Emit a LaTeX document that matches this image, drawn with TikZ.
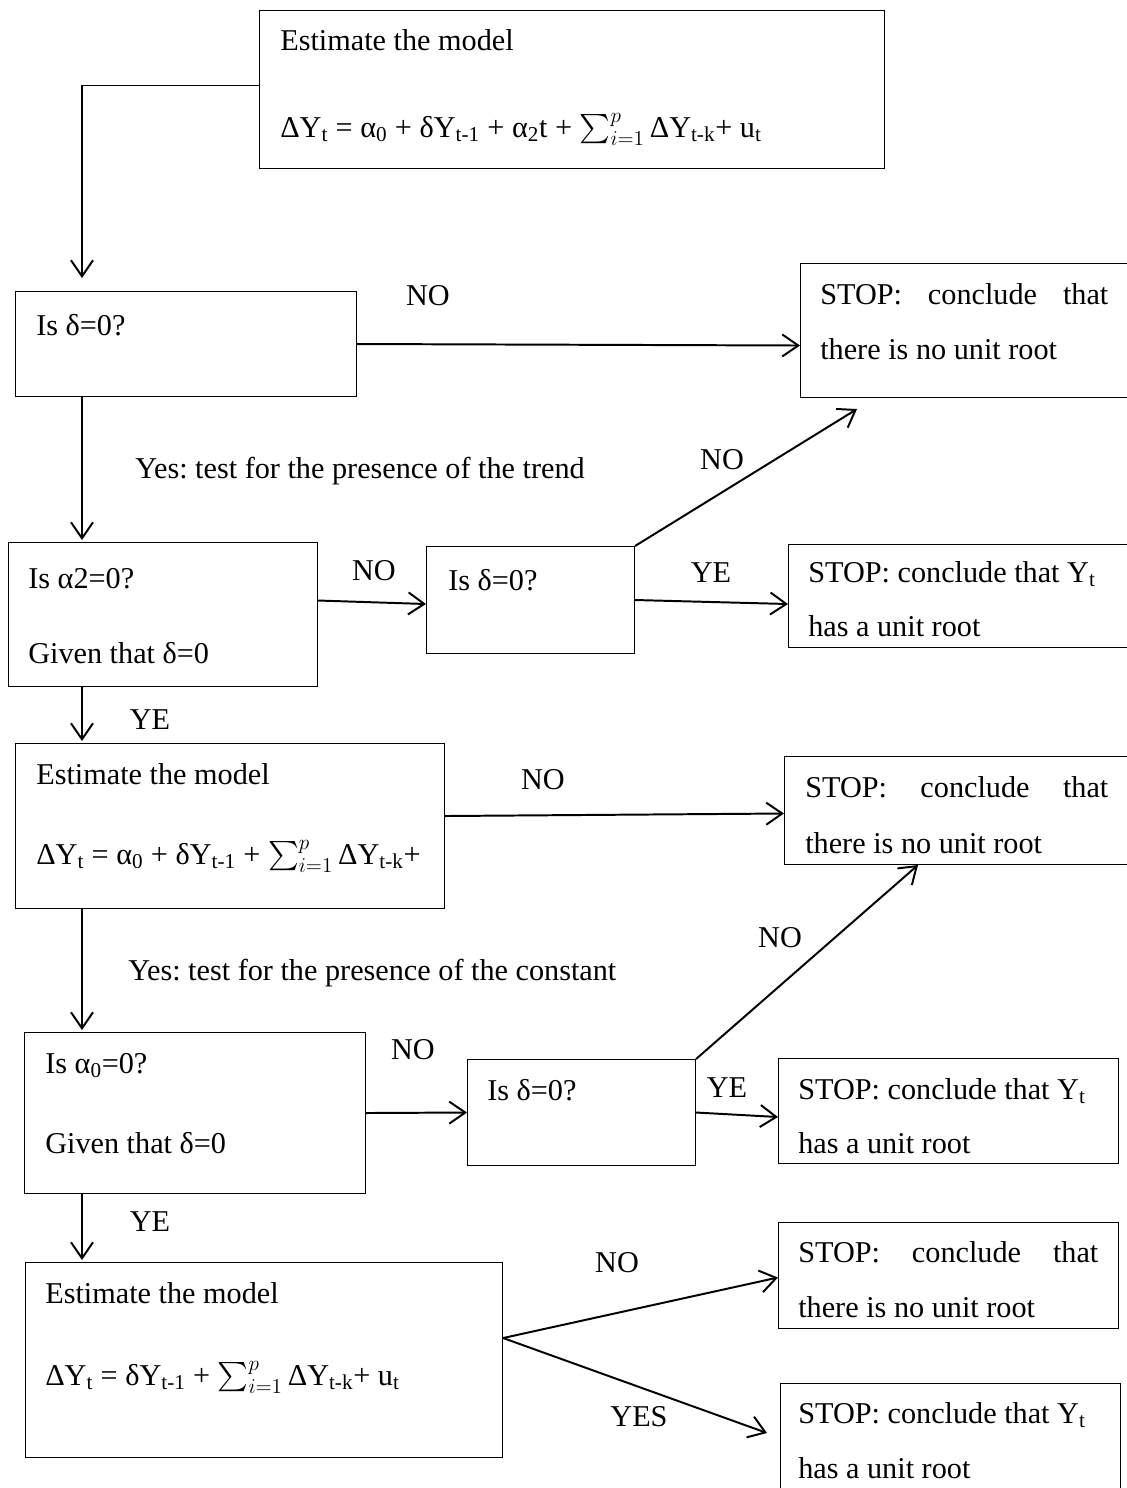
\RequirePackage{fix-cm}
\documentclass[tikz,border=0pt]{standalone}
\usepackage{amsmath}
\usepackage{fontspec}
\setmainfont{Liberation Serif}
\usetikzlibrary{arrows.meta,calc}
\newcommand{\sbs}[1]{\textsubscript{#1}}
\newcommand{\sumip}{$\sum_{i=1}^{p}\,$}
\frenchspacing
\begin{document}
\begin{tikzpicture}[x=0.025cm,y=-0.025cm,font=\fontsize{21.5}{26}\selectfont,
  box/.style={draw,line width=0.7pt,anchor=north west,inner sep=0pt},
  txt/.style={anchor=base west,inner sep=0pt},
  lbl/.style={inner sep=0pt},
  arr/.style={line width=1.4pt,-{Straight Barb[length=4mm,width=5.5mm,line width=1.4pt]}}]
\useasboundingbox (0,0) rectangle (1126,1488);
\node[box,minimum width=15.625cm,minimum height=3.95cm] (est1) at (259,10) {};
\node[box,minimum width=8.525cm,minimum height=2.625cm] (dz1) at (15,291) {};
\node[box,minimum width=8.5cm,minimum height=3.35cm] (stopA) at (800,263) {};
\node[box,minimum width=7.725cm,minimum height=3.6cm] (al2) at (8,542) {};
\node[box,minimum width=5.2cm,minimum height=2.675cm] (dz2) at (426,546) {};
\node[box,minimum width=8.55cm,minimum height=2.575cm] (stopB) at (788,544) {};
\node[box,minimum width=10.725cm,minimum height=4.125cm] (est2) at (15,743) {};
\node[box,minimum width=8.65cm,minimum height=2.7cm] (stopC) at (784,756) {};
\node[box,minimum width=8.525cm,minimum height=4.025cm] (al0) at (24,1032) {};
\node[box,minimum width=5.7cm,minimum height=2.65cm] (dz3) at (467,1059) {};
\node[box,minimum width=8.5cm,minimum height=2.625cm] (stopD) at (778,1058) {};
\node[box,minimum width=11.925cm,minimum height=4.875cm] (est3) at (25,1262) {};
\node[box,minimum width=8.5cm,minimum height=2.65cm] (stopE) at (778,1222) {};
\node[box,minimum width=8.5cm,minimum height=3cm] (stopF) at (780,1383) {};

\node[txt] (est1a) at (280,50) {Estimate the model};
\node[txt] (est1b) at (280,137) {ΔY\sbs{t} = α\sbs{0} + δY\sbs{t-1} + α\sbs{2}t + \sumip ΔY\sbs{t-k}+ u\sbs{t}};
\node[txt] (dz1a) at (36,335) {Is δ=0?};
\node[txt] (stopAa) at (820,304) {\makebox[7.2cm][s]{STOP: conclude that}};
\node[txt] (stopAb) at (820,359) {there is no unit root};
\node[txt] (al2a) at (28,588) {Is α2=0?};
\node[txt] (al2b) at (28,663) {Given that δ=0};
\node[txt] (dz2a) at (448,590) {Is δ=0?};
\node[txt] (stopBa) at (808,582) {STOP: conclude that Y\sbs{t}};
\node[txt] (stopBb) at (808,636) {has a unit root};
\node[txt] (est2a) at (36,784) {Estimate the model};
\node[txt] (est2b) at (36,864) {ΔY\sbs{t} = α\sbs{0} + δY\sbs{t-1} + \sumip ΔY\sbs{t-k}+};
\node[txt] (stopCa) at (805,797) {\makebox[7.575cm][s]{STOP: conclude that}};
\node[txt] (stopCb) at (805,853) {there is no unit root};
\node[txt] (al0a) at (45,1073) {Is α\sbs{0}=0?};
\node[txt] (al0b) at (45,1153) {Given that δ=0};
\node[txt] (dz3a) at (487,1100) {Is δ=0?};
\node[txt] (stopDa) at (798,1099) {STOP: conclude that Y\sbs{t}};
\node[txt] (stopDb) at (798,1153) {has a unit root};
\node[txt] (est3a) at (45,1303) {Estimate the model};
\node[txt] (est3b) at (45,1385) {ΔY\sbs{t} = δY\sbs{t-1} + \sumip ΔY\sbs{t-k}+ u\sbs{t}};
\node[txt] (stopEa) at (798,1262) {\makebox[7.5cm][s]{STOP: conclude that}};
\node[txt] (stopEb) at (798,1317) {there is no unit root};
\node[txt] (stopFa) at (798,1423) {STOP: conclude that Y\sbs{t}};
\node[txt] (stopFb) at (798,1478) {has a unit root};

\node[lbl] (no1) at (428,296) {NO};
\node[txt] (yes1) at (135,478) {Yes: test for the presence of the trend};
\node[lbl] (no2) at (374,571) {NO};
\node[lbl] (no3) at (722,460) {NO};
\node[lbl] (ye1) at (711,573) {YE};
\node[lbl] (ye2) at (150,720) {YE};
\node[lbl] (no4) at (543,780) {NO};
\node[txt] (yes2) at (128,980) {Yes: test for the presence of the constant};
\node[lbl] (no5) at (413,1050) {NO};
\node[lbl] (no6) at (780,938) {NO};
\node[lbl] (ye3) at (727,1088) {YE};
\node[lbl] (ye4) at (150,1222) {YE};
\node[lbl] (no7) at (617,1263) {NO};
\node[lbl] (yes3) at (639,1417) {YES};

\coordinate (lane) at (82,85);
\coordinate (fork) at ($(est3.east)+(0,-22)$);
\draw[line width=0.7pt] ($(est1.north west)+(0,75)$) -- (lane);
\draw[arr] (lane) -- ($(dz1.north -| lane)+(0,-13)$);
\draw[arr] (dz1.east) -- ($(stopA.west)+(0,15)$);
\draw[arr] (dz1.south -| lane) -- ($(al2.north -| lane)+(0,-2)$);
\draw[arr] ($(al2.east)+(0,-14)$) -- ($(dz2.west)+(0,4)$);
\draw[arr] (dz2.north east) -- ($(stopA.south west)+(57,11)$);
\draw[arr] (dz2.east) -- ($(stopB.west)+(0,8)$);
\draw[arr] (al2.south -| lane) -- ($(est2.north -| lane)+(0,-2)$);
\draw[arr] ($(est2.east)+(0,-10)$) -- ($(stopC.west)+(0,3)$);
\draw[arr] (est2.south -| lane) -- ($(al0.north -| lane)+(0,-2)$);
\draw[arr] (al0.east) -- (dz3.west);
\draw[arr] (dz3.north east) -- ($(stopC.south west)+(134,0)$);
\draw[arr] (dz3.east) -- ($(stopD.west)+(0,6)$);
\draw[arr] (al0.south -| lane) -- ($(est3.north -| lane)+(0,-2)$);
\draw[arr] (fork) -- ($(stopE.west)+(0,2)$);
\draw[arr] (fork) -- ($(stopF.north west)+(-13,50)$);
\end{tikzpicture}
\end{document}
